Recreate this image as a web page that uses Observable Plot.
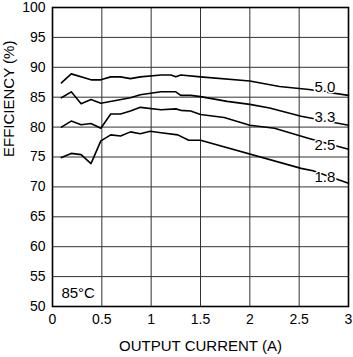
<!DOCTYPE html>
<html><head><meta charset="utf-8">
<script src="https://cdn.jsdelivr.net/npm/d3@7"></script>
<script src="https://cdn.jsdelivr.net/npm/@observablehq/plot@0.6"></script>
<style>body{margin:0;background:#fff}</style>
</head><body><div id="chart"></div>
<script>
const seriesNames = ["5.0", "3.3", "2.5", "1.8"];
const current50 = [0.09,0.19,0.39,0.49,0.59,0.69,0.79,0.89,1.1,1.2,1.25,1.3,1.5,2.0,2.3,2.6,3.0];
const eff50 = [87.4,88.9,87.9,87.9,88.4,88.4,88.1,88.4,88.7,88.7,88.4,88.7,88.4,87.7,86.8,86.3,85.3];
const current33 = [0.09,0.19,0.29,0.39,0.49,0.79,0.89,1.1,1.25,1.3,1.4,1.5,1.77,2.0,2.2,2.52,3.0];
const eff33 = [84.9,85.9,83.9,84.6,84.0,84.9,85.4,85.9,85.9,85.3,85.3,85.1,84.3,83.8,83.2,81.8,80.3];
const current25 = [0.09,0.19,0.29,0.39,0.49,0.59,0.69,0.79,0.89,1.1,1.25,1.3,1.4,1.5,1.74,2.0,2.25,2.6,3.0];
const eff25 = [80.0,81.0,80.4,80.6,79.8,82.2,82.2,82.7,83.3,82.9,83.05,82.8,82.7,82.1,81.6,80.3,79.8,78.1,76.3];
const current18 = [0.09,0.19,0.29,0.39,0.49,0.59,0.69,0.79,0.89,0.99,1.1,1.27,1.38,1.5,2.52,2.64,3.0];
const eff18 = [74.9,75.6,75.4,73.9,77.7,78.7,78.5,79.2,78.9,79.3,79.05,78.7,77.8,77.8,73.1,72.7,70.6];
const labelX = [2.76, 2.76, 2.76, 2.76];
const labelY = [86.6, 81.6, 77.0, 71.7];
const xTicks = [0, 0.5, 1, 1.5, 2, 2.5, 3];
const yTicks = [50, 55, 60, 65, 70, 75, 80, 85, 90, 95, 100];
const tempLabel = "85°C";

const currents = [current50, current33, current25, current18];
const effs = [eff50, eff33, eff25, eff18];
const rows = seriesNames.flatMap((s, i) => currents[i].map((c, j) => ({series: s, current: c, eff: effs[i][j]})));
const labels = seriesNames.map((s, i) => ({series: s, x: labelX[i], y: labelY[i]}));

const chart = Plot.plot({
  width: 353, height: 357,
  marginLeft: 52, marginRight: 5, marginTop: 7, marginBottom: 51,
  style: {fontFamily: "'Liberation Sans', Arial, sans-serif", fontSize: "14px", color: "#000", background: "#fff"},
  x: {domain: [0, 3], ticks: xTicks},
  y: {domain: [50, 100], ticks: yTicks},
  marks: [
    Plot.gridX(xTicks, {stroke: "#333", strokeOpacity: 1}),
    Plot.gridY(yTicks, {stroke: "#333", strokeOpacity: 1}),
    Plot.axisX(xTicks, {tickSize: 0, tickPadding: 8, label: null, fontSize: 14, tickFormat: d => String(d)}),
    Plot.axisY(yTicks, {tickSize: 0, tickPadding: 7, label: null, fontSize: 14, tickFormat: d => String(d)}),
    Plot.lineY(rows, {x: "current", y: "eff", z: "series", stroke: "black", strokeWidth: 1.6}),
    Plot.text(labels, {x: "x", y: "y", text: "series", fontSize: 15, fill: "black", stroke: "white", strokeWidth: 3}),
    Plot.text([tempLabel], {x: 0.09, y: 52.2, text: d => d, textAnchor: "start", fontSize: 15, fill: "black"}),
    Plot.text(["OUTPUT CURRENT (A)"], {frameAnchor: "bottom", dy: 44, text: d => d, fontSize: 15, fill: "black"}),
    Plot.text(["EFFICIENCY (%)"], {frameAnchor: "left", dx: -43, rotate: -90, text: d => d, fontSize: 15, fill: "black"}),
    Plot.frame({stroke: "black", strokeWidth: 1.6})
  ]
});
document.getElementById("chart").append(chart);
</script>
</body></html>
